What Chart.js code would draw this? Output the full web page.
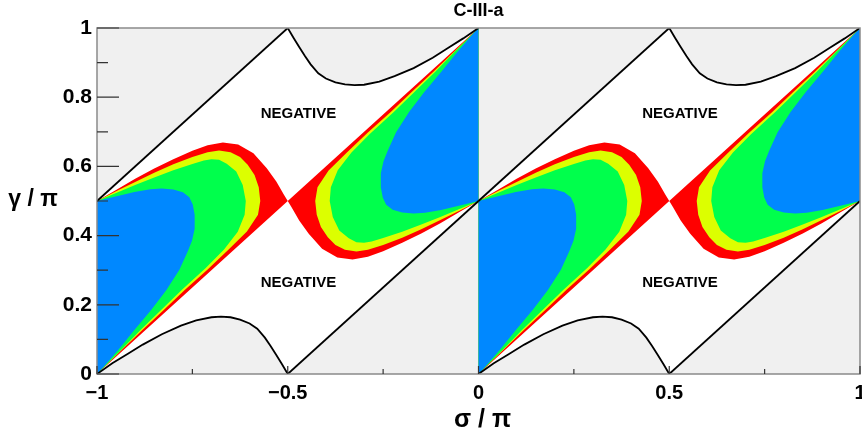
<!DOCTYPE html>
<html>
<head>
<meta charset="utf-8">
<script src="https://cdn.jsdelivr.net/npm/chart.js@4.4.0/dist/chart.umd.min.js"></script>
<style>
  html, body { margin: 0; padding: 0; background: #fff; }
  canvas { display: block; }
</style>
</head>
<body>
<canvas id="c" width="862" height="438" style="width:862px;height:438px"></canvas>
<script>
// σ/π at which each repetition of the pattern begins
const periodStarts = [-1, 0];

const xTickLabels = ['\u22121', '\u22120.5', '0', '0.5', '1'];
const yTickLabels = ['0', '0.2', '0.4', '0.6', '0.8', '1'];
const xMinorTicks = [-0.75, -0.25, 0.25, 0.75];
const yMinorTicks = [0.1, 0.3, 0.5, 0.7, 0.9];

// Boundary of the allowed region within one period: [u, γ/π], u = σ/π − period start
const edgeUpper = [[0, 0.5], [0.5, 1]];
const edgeLower = [[0.5, 0], [1, 0.5]];
const ridgeTop = [
  [0.5, 1], [0.515, 0.972], [0.53, 0.945], [0.545, 0.919], [0.56, 0.895], [0.58, 0.869],
  [0.6, 0.854], [0.625, 0.843], [0.65, 0.837], [0.675, 0.835], [0.7, 0.836], [0.74, 0.845],
  [0.78, 0.861], [0.83, 0.884], [0.88, 0.914], [0.92, 0.942], [0.96, 0.970], [1, 1]
];
const ridgeBottom = [
  [0, 0], [0.04, 0.031], [0.08, 0.058], [0.12, 0.085], [0.17, 0.115], [0.22, 0.140],
  [0.26, 0.155], [0.3, 0.164], [0.325, 0.166], [0.35, 0.164], [0.375, 0.157], [0.4, 0.146],
  [0.42, 0.131], [0.44, 0.105], [0.455, 0.081], [0.47, 0.055], [0.485, 0.028], [0.5, 0]
];

// Contour bands, left lobe of a period (closed outlines)
const redLeft = [
  [0, 0.5], [0.05, 0.532], [0.1, 0.564], [0.15, 0.594], [0.2, 0.621], [0.25, 0.645],
  [0.29, 0.661], [0.33, 0.669], [0.37, 0.663], [0.41, 0.638], [0.445, 0.595], [0.47, 0.556],
  [0.49, 0.518], [0.5, 0.5], [0, 0]
];
const yellowLeft = [
  [0, 0.5], [0.05, 0.528], [0.1, 0.555], [0.15, 0.582], [0.2, 0.606], [0.25, 0.627],
  [0.29, 0.641], [0.32, 0.646], [0.35, 0.641], [0.375, 0.627], [0.395, 0.605], [0.413, 0.575],
  [0.424, 0.54], [0.428, 0.5], [0.422, 0.46], [0.393, 0.412], [0.345, 0.36], [0.29, 0.302],
  [0.23, 0.243], [0.175, 0.185], [0.119, 0.127], [0.06, 0.064], [0, 0]
];
const greenLeft = [
  [0, 0.5], [0.05, 0.523], [0.1, 0.546], [0.15, 0.568], [0.2, 0.589], [0.25, 0.607],
  [0.28, 0.617], [0.3, 0.621], [0.32, 0.619], [0.34, 0.608], [0.365, 0.585], [0.382, 0.546],
  [0.39, 0.5], [0.387, 0.46], [0.369, 0.411], [0.333, 0.36], [0.285, 0.306], [0.222, 0.243],
  [0.17, 0.187], [0.114, 0.127], [0.06, 0.066], [0, 0]
];
const blueLeft = [
  [0, 0.5], [0.046, 0.512], [0.098, 0.526], [0.14, 0.534], [0.17, 0.536], [0.2, 0.533],
  [0.225, 0.525], [0.242, 0.511], [0.251, 0.49], [0.256, 0.46], [0.256, 0.42], [0.249, 0.385],
  [0.238, 0.355], [0.216, 0.301], [0.182, 0.243], [0.142, 0.185], [0.098, 0.127], [0.055, 0.069],
  [0.02, 0.024], [0, 0]
];

// Contour bands, right lobe of a period
const redRight = [
  [1, 0.5], [0.95, 0.468], [0.9, 0.436], [0.85, 0.406], [0.8, 0.379], [0.75, 0.355],
  [0.71, 0.339], [0.67, 0.331], [0.63, 0.337], [0.59, 0.362], [0.555, 0.405], [0.53, 0.444],
  [0.51, 0.482], [0.5, 0.5], [1, 1]
];
const yellowRight = [
  [1, 0.5], [0.95, 0.472], [0.9, 0.445], [0.85, 0.418], [0.8, 0.394], [0.75, 0.373],
  [0.71, 0.359], [0.68, 0.354], [0.65, 0.359], [0.625, 0.373], [0.605, 0.395], [0.587, 0.425],
  [0.576, 0.46], [0.572, 0.5], [0.578, 0.54], [0.607, 0.588], [0.655, 0.64], [0.71, 0.698],
  [0.77, 0.757], [0.825, 0.815], [0.881, 0.873], [0.94, 0.936], [1, 1]
];
const greenRight = [
  [1, 0.5], [0.95, 0.477], [0.9, 0.454], [0.85, 0.432], [0.8, 0.411], [0.75, 0.393],
  [0.72, 0.383], [0.7, 0.379], [0.68, 0.381], [0.66, 0.392], [0.635, 0.415], [0.618, 0.454],
  [0.61, 0.5], [0.613, 0.54], [0.631, 0.589], [0.667, 0.64], [0.715, 0.694], [0.778, 0.757],
  [0.83, 0.813], [0.886, 0.873], [0.94, 0.934], [1, 1]
];
const blueRight = [
  [1, 0.5], [0.954, 0.488], [0.902, 0.474], [0.86, 0.466], [0.83, 0.464], [0.8, 0.467],
  [0.775, 0.475], [0.758, 0.489], [0.749, 0.51], [0.744, 0.54], [0.744, 0.58], [0.751, 0.615],
  [0.762, 0.645], [0.784, 0.699], [0.818, 0.757], [0.858, 0.815], [0.902, 0.873], [0.945, 0.931],
  [0.98, 0.976], [1, 1]
];

// Region labels [σ/π, γ/π]
const regionLabels = [
  [-0.472, 0.752, 'NEGATIVE'], [-0.472, 0.263, 'NEGATIVE'],
  [0.528, 0.752, 'NEGATIVE'], [0.528, 0.263, 'NEGATIVE']
];

const COLORS = { red: '#ff0000', yellow: '#dcff00', green: '#00ff4c', blue: '#0088ff' };
const FONT = "'Liberation Sans', Arial, Helvetica, sans-serif";

function place(points, start) {
  return points.map(([u, g]) => ({ x: start + u, y: g }));
}

function area(points, start, color, order) {
  return {
    data: place(points, start), showLine: true, fill: 'shape', backgroundColor: color,
    borderWidth: 0, pointRadius: 0, order
  };
}

function curve(points, start) {
  return {
    data: place(points, start), showLine: true, fill: false, borderColor: '#000',
    borderWidth: 1.8, pointRadius: 0, order: 1
  };
}

const datasets = [];
for (const s of periodStarts) {
  const allowed = edgeUpper.concat(ridgeTop.slice(1), edgeLower.slice().reverse(),
    ridgeBottom.slice().reverse().slice(1));
  datasets.push(area(allowed, s, '#ffffff', 20));
  datasets.push(area(redLeft, s, COLORS.red, 19), area(redRight, s, COLORS.red, 19));
  datasets.push(area(yellowLeft, s, COLORS.yellow, 18), area(yellowRight, s, COLORS.yellow, 18));
  datasets.push(area(greenLeft, s, COLORS.green, 17), area(greenRight, s, COLORS.green, 17));
  datasets.push(area(blueLeft, s, COLORS.blue, 16), area(blueRight, s, COLORS.blue, 16));
  datasets.push(curve(edgeUpper, s), curve(ridgeTop, s), curve(edgeLower, s), curve(ridgeBottom, s));
}

const decor = {
  id: 'decor',
  beforeDraw(chart) {
    const { ctx, chartArea: a } = chart;
    ctx.save();
    ctx.fillStyle = '#ffffff';
    ctx.fillRect(0, 0, chart.width, chart.height);
    ctx.fillStyle = '#f0f0f0';
    ctx.fillRect(a.left, a.top, a.right - a.left, a.bottom - a.top);
    ctx.restore();
  },
  afterDatasetsDraw(chart) {
    const { ctx, chartArea: a, scales: { x, y } } = chart;
    ctx.save();
    // region labels
    ctx.fillStyle = '#000';
    ctx.font = 'bold 15px ' + FONT;
    ctx.textAlign = 'center';
    ctx.textBaseline = 'middle';
    for (const [sx, gy, txt] of regionLabels) {
      ctx.fillText(txt, x.getPixelForValue(sx), y.getPixelForValue(gy));
    }
    // frame
    ctx.strokeStyle = '#8a8a8a';
    ctx.lineWidth = 1.5;
    ctx.strokeRect(a.left, a.top, a.right - a.left, a.bottom - a.top);
    // inward tick marks
    ctx.strokeStyle = '#333';
    ctx.lineWidth = 1.2;
    ctx.beginPath();
    x.ticks.forEach(t => {
      const px = x.getPixelForValue(t.value);
      ctx.moveTo(px, a.bottom); ctx.lineTo(px, a.bottom - 8);
    });
    xMinorTicks.forEach(v => {
      const px = x.getPixelForValue(v);
      ctx.moveTo(px, a.bottom); ctx.lineTo(px, a.bottom - 5);
    });
    y.ticks.forEach(t => {
      const py = y.getPixelForValue(t.value);
      ctx.moveTo(a.left, py); ctx.lineTo(a.left + 22, py);
    });
    yMinorTicks.forEach(v => {
      const py = y.getPixelForValue(v);
      ctx.moveTo(a.left, py); ctx.lineTo(a.left + 11, py);
    });
    ctx.stroke();
    ctx.restore();
  },
  afterDraw(chart) {
    const { ctx, chartArea: a } = chart;
    ctx.save();
    ctx.fillStyle = '#000';
    ctx.textAlign = 'center';
    ctx.textBaseline = 'middle';
    ctx.font = 'bold 18px ' + FONT;
    ctx.fillText('C-III-a', (a.left + a.right) / 2, 11);
    ctx.font = 'bold 25px ' + FONT;
    ctx.fillText('\u03c3 / \u03c0', (a.left + a.right) / 2 + 4, a.bottom + 46);
    ctx.font = 'bold 23px ' + FONT;
    ctx.fillText('\u03b3 / \u03c0', 33, (a.top + a.bottom) / 2 - 1);
    ctx.restore();
  }
};

new Chart(document.getElementById('c'), {
  type: 'scatter',
  data: { datasets },
  plugins: [decor],
  options: {
    responsive: false,
    animation: false,
    devicePixelRatio: 1,
    events: [],
    layout: { padding: { top: 28, right: 2, left: 0, bottom: 0 } },
    plugins: { legend: { display: false }, tooltip: { enabled: false }, title: { display: false } },
    scales: {
      x: {
        type: 'linear', min: -1, max: 1,
        grid: { display: false, drawTicks: false },
        border: { display: false },
        ticks: {
          stepSize: 0.5, autoSkip: false, maxRotation: 0, padding: 7, color: '#000',
          font: { family: FONT, size: 20, weight: 'bold' },
          callback: (v, i) => xTickLabels[i]
        },
        afterFit(s) { s.height = 64; s.paddingLeft = 0; s.paddingRight = 0; }
      },
      y: {
        type: 'linear', min: 0, max: 1,
        grid: { display: false, drawTicks: false },
        border: { display: false },
        ticks: {
          stepSize: 0.2, autoSkip: false, padding: 5, color: '#000',
          font: { family: FONT, size: 21, weight: 'bold' },
          callback: (v, i) => yTickLabels[i]
        },
        afterFit(s) { s.width = 97; s.paddingTop = 0; s.paddingBottom = 0; }
      }
    }
  }
});
</script>
</body>
</html>
